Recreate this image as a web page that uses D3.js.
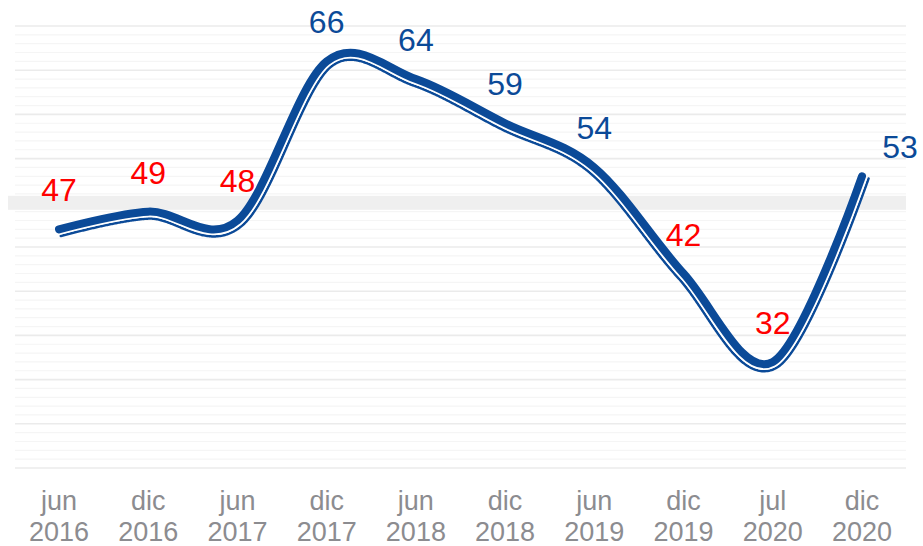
<!DOCTYPE html>
<html>
<head>
<meta charset="utf-8">
<script src="https://cdn.jsdelivr.net/npm/d3@7"></script>
<style>
  body { margin: 0; background: #fff; }
  text { font-family: "Liberation Sans", Arial, sans-serif; }
</style>
</head>
<body>
<div id="chart"></div>
<script>
const width = 923
const height = 546

// data
const months = ["jun", "dic", "jun", "dic", "jun", "dic", "jun", "dic", "jul", "dic"]
const years = ["2016", "2016", "2017", "2017", "2018", "2018", "2019", "2019", "2020", "2020"]
const values = [47, 49, 48, 66, 64, 59, 54, 42, 32, 53]
const threshold = 50

const keys = months.map((m, i) => m + " " + years[i])
const data = keys.map((k, i) => ({key: k, month: months[i], year: years[i], value: values[i]}))

const blue = "#0b4a98"
const red = "#ff0000"

let svg = d3.select("#chart")
    .append("svg")
    .attr("width", width)
    .attr("height", height)

// scales
let x = d3.scalePoint().domain(keys).range([59, 862])
let y = d3.scaleLinear().domain([20, 70]).range([468, 26])

// horizontal grid, one line per unit, darker every 5
const gridX0 = 15, gridX1 = 906
svg.append("g")
    .selectAll("line")
    .data(d3.range(20, 71))
    .enter()
    .append("line")
    .attr("x1", gridX0)
    .attr("x2", gridX1)
    .attr("y1", d => y(d))
    .attr("y2", d => y(d))
    .attr("stroke", d => d % 5 === 0 ? "#ebebeb" : "#f5f5f5")
    .attr("stroke-width", d => d % 5 === 0 ? 1.6 : 1.2)

// reference band at 50
svg.append("rect")
    .attr("x", 8)
    .attr("y", y(threshold) - 7)
    .attr("width", gridX1 - 8)
    .attr("height", 14)
    .attr("fill", "#efefef")

// x axis labels (two rows)
let xAxis = svg.append("g")
    .selectAll("text")
    .data(data)
    .enter()
    .append("text")
    .attr("x", d => x(d.key))
    .attr("y", 510)
    .attr("text-anchor", "middle")
    .style("font-size", "27px")
    .style("fill", "#8c8c90")
xAxis.append("tspan").attr("x", d => x(d.key)).text(d => d.month)
xAxis.append("tspan").attr("x", d => x(d.key)).attr("dy", 31).text(d => d.year)

// smoothed line
let line = d3.line()
    .x(d => x(d.key))
    .y(d => y(d.value))
    .curve(d3.curveCatmullRom.alpha(0))

let mainPath = svg.append("path")
    .datum(data)
    .attr("d", line)
    .attr("fill", "none")
    .attr("stroke", blue)
    .attr("stroke-width", 8)
    .attr("stroke-linecap", "round")

// sample the curve to build parallel copies shifted along the downward normal
const node = mainPath.node()
const total = node.getTotalLength()
const samples = d3.range(0, total, 1).concat([total]).map(l => {
    const p = node.getPointAtLength(l)
    const a = node.getPointAtLength(Math.max(0, l - 0.5))
    const b = node.getPointAtLength(Math.min(total, l + 0.5))
    let tx = b.x - a.x, ty = b.y - a.y
    const len = Math.hypot(tx, ty) || 1
    tx /= len; ty /= len
    let nx = -ty, ny = tx
    if (ny < 0) { nx = -nx; ny = -ny }
    return {x: p.x, y: p.y, nx: nx, ny: ny}
})

function offsetLine(off) {
    return d3.line().x(d => d.x + d.nx * off).y(d => d.y + d.ny * off)(samples)
}

// outer thin blue stripe
svg.append("path")
    .attr("d", offsetLine(6.9))
    .attr("fill", "none")
    .attr("stroke", blue)
    .attr("stroke-width", 2.6)
    .attr("stroke-linecap", "round")

// white gap
svg.append("path")
    .attr("d", offsetLine(4.9))
    .attr("fill", "none")
    .attr("stroke", "#fff")
    .attr("stroke-width", 1.6)
    .attr("stroke-linecap", "round")

// bring the thick line on top
mainPath.raise()

// value labels
svg.append("g")
    .selectAll("text")
    .data(data)
    .enter()
    .append("text")
    .attr("x", (d, i) => x(d.key) + (i === data.length - 1 ? 38 : 0))
    .attr("y", (d, i) => y(d.value) - (i === data.length - 1 ? 18 : 28))
    .attr("text-anchor", "middle")
    .style("font-size", "32px")
    .style("fill", d => d.value < threshold ? red : blue)
    .text(d => d.value)
</script>
</body>
</html>
